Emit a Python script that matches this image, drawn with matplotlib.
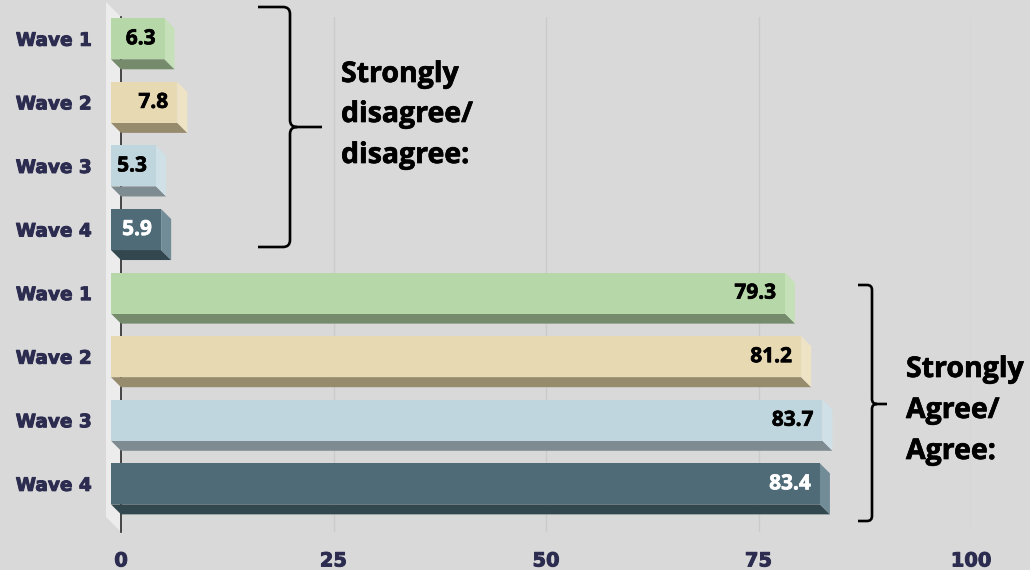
import numpy as np
import matplotlib
matplotlib.use('Agg')
import matplotlib.pyplot as plt
import matplotlib.transforms as mtransforms
import matplotlib.patheffects as pe
from matplotlib.patches import Polygon, PathPatch
from matplotlib.path import Path

# Survey results, top to bottom
labels = ['Wave 1', 'Wave 2', 'Wave 3', 'Wave 4', 'Wave 1', 'Wave 2', 'Wave 3', 'Wave 4']
values = [6.3, 7.8, 5.3, 5.9, 79.3, 81.2, 83.7, 83.4]
x_ticks = [0, 25, 50, 75, 100]

# front / side / bottom shades per wave
front_colors = ['#b6d7a8', '#e7d9b1', '#bfd6de', '#4f6b78']
side_colors = ['#c6e1b9', '#efe3c6', '#cfe0e6', '#718b97']
bottom_colors = ['#758b6b', '#978b6e', '#7e8b90', '#33474f']
text_colors = ['black', 'black', 'black', 'white']

bg = '#d9d9d9'
navy = '#2c2c50'
depth = 10      # pixels of bar depth
bar_h = 0.645   # in category slots

fig = plt.figure(figsize=(10.3, 5.7), dpi=100, facecolor=bg)
W, H = 1030, 570
ax = fig.add_axes([121 / W, (H - 532) / H, 850 / W, 515 / H])
ax.set_facecolor('none')
ax.set_xlim(0, 100)
ax.set_ylim(8.1, 0)
for s in ax.spines.values():
    s.set_visible(False)

# depth offset in data units (back is right/down of the front face)
p0 = ax.transData.transform((0, 0))
dx, dy = ax.transData.inverted().transform(p0 + np.array([depth, -depth]))

# left wall of the 3D box
wall_off = 15
wx, wy = ax.transData.inverted().transform(p0 + np.array([-wall_off, wall_off]))
ymax = 8.1
wall = Polygon([(0, 0), (0, ymax), (wx, ymax + wy), (wx, wy)],
               closed=True, facecolor='#ececec', edgecolor='none', zorder=1,
               clip_on=False)
ax.add_patch(wall)

# gridlines on the back wall and the value axis
for t in x_ticks[1:]:
    ax.plot([t, t], [0, ymax], color='#cbcbcb', lw=1, zorder=1)
ax.plot([0, 0], [0, ymax], color='#2a2a2a', lw=1.2, zorder=2, clip_on=False)

centers = np.arange(len(values)) + 0.5
for i, (c, v) in enumerate(zip(centers, values)):
    k = i % 4
    # front face corners
    fl, fr = -dx, v - dx
    ft, fb = c - bar_h / 2 - dy, c + bar_h / 2 - dy
    bottom = Polygon([(fl, fb), (fr, fb), (v, fb + dy), (0, fb + dy)],
                     facecolor=bottom_colors[k], edgecolor='none', zorder=3)
    side = Polygon([(fr, ft), (v, ft + dy), (v, fb + dy), (fr, fb)],
                   facecolor=side_colors[k], edgecolor='none', zorder=3)
    front = Polygon([(fl, ft), (fr, ft), (fr, fb), (fl, fb)],
                    facecolor=front_colors[k], edgecolor='none', zorder=4)
    for p in (bottom, side, front):
        p.set_clip_on(False)
        ax.add_patch(p)
    lbl_off = mtransforms.offset_copy(ax.transData, fig=fig, x=-9, y=0, units='dots')
    ax.text(fr, c - dy, f'{v:.1f}', transform=lbl_off, ha='right', va='center',
            fontsize=15, fontweight='bold', family='Open Sans',
            color=text_colors[k], zorder=5,
            path_effects=[pe.withStroke(linewidth=0.5, foreground=text_colors[k])])

thick = [pe.withStroke(linewidth=0.7, foreground=navy)]
ax.set_xticks(x_ticks)
ax.set_xticklabels([str(t) for t in x_ticks], fontsize=14, fontweight='bold',
                   color=navy, family='DejaVu Sans')
ax.tick_params(axis='x', length=0, pad=14)
ax.set_yticks(centers)
ax.set_yticklabels(labels, fontsize=13.3, fontweight='bold', color=navy,
                   family='DejaVu Sans')
ax.tick_params(axis='y', length=0, pad=21)
shift = mtransforms.ScaledTranslation(0, depth / 100, fig.dpi_scale_trans)
for t in ax.get_yticklabels():
    t.set_transform(t.get_transform() + shift)
for t in ax.get_yticklabels() + ax.get_xticklabels():
    t.set_path_effects(thick)

# overlay in pixel coordinates for the braces and group captions
ov = fig.add_axes([0, 0, 1, 1], facecolor='none')
ov.set_xlim(0, W)
ov.set_ylim(H, 0)
ov.axis('off')


def brace(x0, xv, x1, ytop, ybot, ymid, r):
    verts = [(x0, ytop), (xv - r, ytop), (xv, ytop), (xv, ytop + r),
             (xv, ymid - r), (xv, ymid), (xv + r, ymid), (x1, ymid),
             (xv + r, ymid), (xv, ymid), (xv, ymid + r),
             (xv, ybot - r), (xv, ybot), (xv - r, ybot), (x0, ybot)]
    codes = [Path.MOVETO, Path.LINETO, Path.CURVE3, Path.CURVE3,
             Path.LINETO, Path.CURVE3, Path.CURVE3, Path.LINETO,
             Path.MOVETO, Path.CURVE3, Path.CURVE3,
             Path.LINETO, Path.CURVE3, Path.CURVE3, Path.LINETO]
    ov.add_patch(PathPatch(Path(verts, codes), facecolor='none',
                           edgecolor='black', lw=1.9, capstyle='butt'))


brace(258, 290, 322, 7, 247, 127, 7)
brace(858, 872, 887, 285, 521, 404, 5)

for x, lines, baselines in [
        (341, ['Strongly', 'disagree/', 'disagree:'], [82, 122, 163]),
        (906, ['Strongly', 'Agree/', 'Agree:'], [377, 418, 459])]:
    for txt, yb in zip(lines, baselines):
        ov.text(x, yb, txt, ha='left', va='baseline', fontsize=20.5,
                fontweight='bold', family='Open Sans', color='black',
                path_effects=[pe.withStroke(linewidth=0.5, foreground='black')])

fig.savefig('out.png', dpi=100, facecolor=bg)
